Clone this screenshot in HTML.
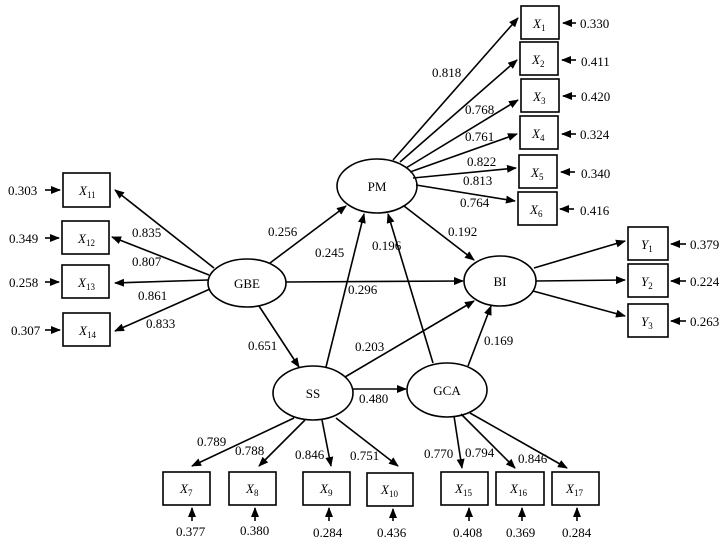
<!DOCTYPE html>
<html><head><meta charset="utf-8"><style>
html,body{margin:0;padding:0;background:#fff}
svg{display:block;font-family:"Liberation Serif",serif;font-size:13px}
.i{font-style:italic}
</style></head><body>
<svg width="724" height="544" viewBox="0 0 724 544" xmlns="http://www.w3.org/2000/svg">
<defs><marker id="a" markerWidth="10" markerHeight="8" refX="9" refY="4" orient="auto" markerUnits="userSpaceOnUse"><path d="M0,0 L10,4 L0,8 z" fill="#000"/></marker></defs>
<g fill="none" stroke="#000" stroke-width="1.6">
<ellipse cx="377" cy="186" rx="40" ry="27"/>
<ellipse cx="247" cy="283" rx="39" ry="24"/>
<ellipse cx="500" cy="281" rx="36" ry="25"/>
<ellipse cx="313" cy="393" rx="40" ry="27"/>
<ellipse cx="447" cy="390" rx="40" ry="27"/>
<rect x="521" y="6" width="38" height="33"/><rect x="520" y="42" width="38" height="33"/>
<rect x="521" y="79" width="38" height="33"/><rect x="520" y="116" width="38" height="33"/>
<rect x="519" y="155" width="38" height="33"/><rect x="518" y="192" width="39" height="33"/>
<rect x="63" y="173" width="47" height="34"/><rect x="62" y="221" width="47" height="33"/>
<rect x="62" y="265" width="47" height="33"/><rect x="63" y="313" width="47" height="33"/>
<rect x="628" y="227" width="40" height="33"/><rect x="628" y="264" width="40" height="33"/><rect x="628" y="304" width="40" height="33"/>
<rect x="163" y="472" width="47" height="33"/><rect x="229" y="472" width="47" height="33"/>
<rect x="303" y="472" width="47" height="33"/><rect x="367" y="473" width="46" height="33"/>
<rect x="441" y="472" width="47" height="33"/><rect x="496" y="472" width="48" height="33"/><rect x="552" y="472" width="47" height="33"/>
</g>
<g stroke="#000" stroke-width="1.6" marker-end="url(#a)">
<line x1="393" y1="160" x2="518" y2="18"/>
<line x1="400" y1="162" x2="517" y2="60"/>
<line x1="406" y1="168" x2="518" y2="100"/>
<line x1="410" y1="172" x2="517" y2="134"/>
<line x1="413" y1="178" x2="516" y2="168"/>
<line x1="416" y1="185" x2="515" y2="201"/>
<line x1="404" y1="206" x2="474" y2="260"/>
<line x1="270" y1="263" x2="346" y2="206"/>
<line x1="286" y1="282" x2="463" y2="281"/>
<line x1="259" y1="306" x2="299" y2="367"/>
<line x1="326" y1="367" x2="364" y2="214"/>
<line x1="345" y1="377" x2="474" y2="301"/>
<line x1="353" y1="389" x2="406" y2="389"/>
<line x1="433" y1="363" x2="388" y2="214"/>
<line x1="468" y1="366" x2="491" y2="306"/>
<line x1="214" y1="268" x2="115" y2="190"/>
<line x1="209" y1="275" x2="112" y2="237"/>
<line x1="208" y1="280" x2="115" y2="283"/>
<line x1="210" y1="289" x2="115" y2="331"/>
<line x1="534" y1="268" x2="625" y2="241"/>
<line x1="536" y1="281" x2="625" y2="280"/>
<line x1="533" y1="291" x2="625" y2="316"/>
<line x1="294" y1="418" x2="192" y2="466"/>
<line x1="305" y1="420" x2="259" y2="466"/>
<line x1="322" y1="420" x2="331" y2="466"/>
<line x1="336" y1="418" x2="398" y2="466"/>
<line x1="454" y1="416" x2="462" y2="468"/>
<line x1="461" y1="414" x2="515" y2="468"/>
<line x1="470" y1="413" x2="567" y2="468"/>
<line x1="576" y1="23" x2="563" y2="23"/><line x1="576" y1="60" x2="562" y2="60"/>
<line x1="576" y1="96" x2="563" y2="96"/><line x1="576" y1="134" x2="562" y2="134"/>
<line x1="575" y1="172" x2="561" y2="172"/><line x1="574" y1="209" x2="560" y2="209"/>
<line x1="45" y1="190" x2="60" y2="190"/><line x1="45" y1="238" x2="59" y2="238"/>
<line x1="45" y1="282" x2="59" y2="282"/><line x1="45" y1="330" x2="60" y2="330"/>
<line x1="686" y1="244" x2="671" y2="244"/><line x1="686" y1="281" x2="671" y2="281"/><line x1="686" y1="321" x2="671" y2="321"/>
<line x1="192" y1="521" x2="192" y2="508"/><line x1="255" y1="521" x2="255" y2="508"/>
<line x1="329" y1="521" x2="329" y2="508"/><line x1="393" y1="521" x2="393" y2="509"/>
<line x1="469" y1="521" x2="469" y2="508"/><line x1="522" y1="521" x2="522" y2="508"/><line x1="577" y1="521" x2="577" y2="508"/>
</g>
<g fill="#000">
<text x="377" y="191" text-anchor="middle">PM</text>
<text x="247" y="288" text-anchor="middle">GBE</text>
<text x="500" y="286" text-anchor="middle">BI</text>
<text x="313" y="398" text-anchor="middle">SS</text>
<text x="447" y="395" text-anchor="middle">GCA</text>
<text x="580" y="28">0.330</text><text x="581" y="66">0.411</text><text x="581" y="101">0.420</text>
<text x="580" y="139">0.324</text><text x="581" y="178">0.340</text><text x="580" y="215">0.416</text>
<text x="8" y="195">0.303</text><text x="9" y="243">0.349</text><text x="9" y="287">0.258</text><text x="11" y="335">0.307</text>
<text x="690" y="249">0.379</text><text x="690" y="286">0.224</text><text x="690" y="326">0.263</text>
<text x="176" y="536">0.377</text><text x="240" y="535">0.380</text><text x="313" y="537">0.284</text>
<text x="377" y="537">0.436</text><text x="453" y="537">0.408</text><text x="506" y="537">0.369</text><text x="562" y="537">0.284</text>
<text x="432" y="77">0.818</text><text x="465" y="114">0.768</text><text x="465" y="141">0.761</text>
<text x="467" y="166">0.822</text><text x="463" y="185">0.813</text><text x="460" y="207">0.764</text>
<text x="448" y="236">0.192</text>
<text x="268" y="236">0.256</text><text x="315" y="257">0.245</text><text x="372" y="250">0.196</text>
<text x="348" y="294">0.296</text><text x="132" y="237">0.835</text><text x="132" y="266">0.807</text>
<text x="138" y="300">0.861</text><text x="146" y="328">0.833</text><text x="248" y="350">0.651</text>
<text x="355" y="351">0.203</text><text x="484" y="345">0.169</text><text x="359" y="403">0.480</text>
<text x="197" y="446">0.789</text><text x="235" y="455">0.788</text><text x="295" y="459">0.846</text>
<text x="350" y="460">0.751</text><text x="424" y="458">0.770</text><text x="465" y="457">0.794</text><text x="518" y="463">0.846</text>
</g>
<g fill="#000" class="i">
<text x="533" y="28">X<tspan font-size="9" dy="3" font-style="normal">1</tspan></text>
<text x="532" y="64">X<tspan font-size="9" dy="3" font-style="normal">2</tspan></text>
<text x="533" y="101">X<tspan font-size="9" dy="3" font-style="normal">3</tspan></text>
<text x="532" y="138">X<tspan font-size="9" dy="3" font-style="normal">4</tspan></text>
<text x="531" y="177">X<tspan font-size="9" dy="3" font-style="normal">5</tspan></text>
<text x="530" y="214">X<tspan font-size="9" dy="3" font-style="normal">6</tspan></text>
<text x="79" y="195">X<tspan font-size="9" dy="3" font-style="normal">11</tspan></text>
<text x="78" y="243">X<tspan font-size="9" dy="3" font-style="normal">12</tspan></text>
<text x="78" y="287">X<tspan font-size="9" dy="3" font-style="normal">13</tspan></text>
<text x="79" y="335">X<tspan font-size="9" dy="3" font-style="normal">14</tspan></text>
<text x="641" y="249">Y<tspan font-size="9" dy="3" font-style="normal">1</tspan></text>
<text x="641" y="286">Y<tspan font-size="9" dy="3" font-style="normal">2</tspan></text>
<text x="641" y="326">Y<tspan font-size="9" dy="3" font-style="normal">3</tspan></text>
<text x="180" y="493">X<tspan font-size="9" dy="3" font-style="normal">7</tspan></text>
<text x="246" y="493">X<tspan font-size="9" dy="3" font-style="normal">8</tspan></text>
<text x="320" y="493">X<tspan font-size="9" dy="3" font-style="normal">9</tspan></text>
<text x="381" y="494">X<tspan font-size="9" dy="3" font-style="normal">10</tspan></text>
<text x="455" y="493">X<tspan font-size="9" dy="3" font-style="normal">15</tspan></text>
<text x="510" y="493">X<tspan font-size="9" dy="3" font-style="normal">16</tspan></text>
<text x="566" y="493">X<tspan font-size="9" dy="3" font-style="normal">17</tspan></text>
</g>
</svg>
</body></html>
